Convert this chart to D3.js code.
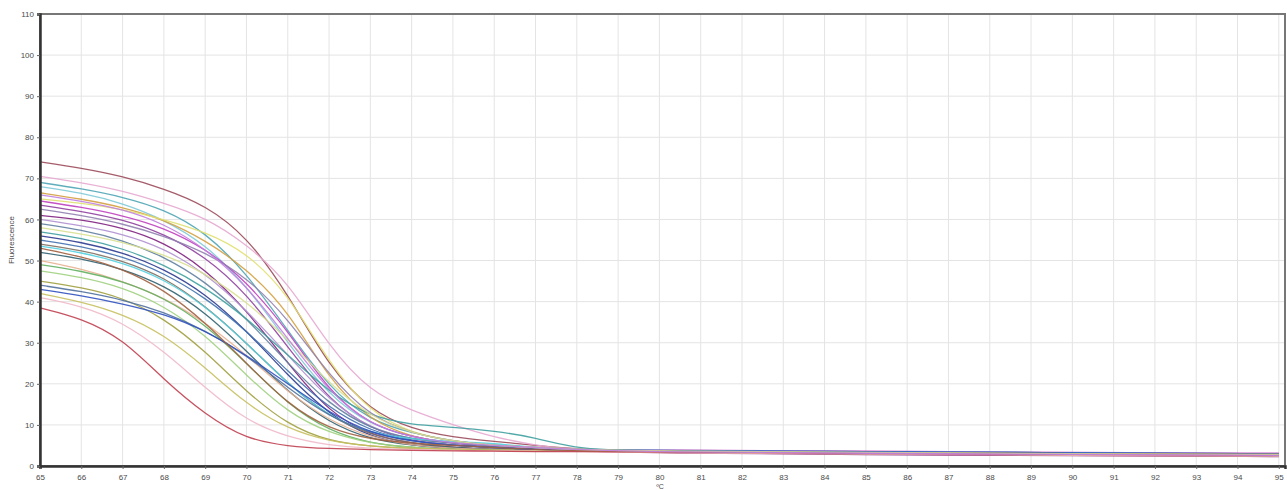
<!DOCTYPE html>
<html lang="en">
<head>
  <meta charset="UTF-8">
  <title>Melt curves</title>
  <script src="https://d3js.org/d3.v7.min.js"></script>
  <style>
    body { margin: 0; background: #fff; }
    .tick text { font-family: Arial, "Liberation Sans", sans-serif; font-size: 8px; fill: #4a4a4a; }
  </style>
</head>
<body>
<div class="main"></div>
<script>

  const temps = [65, 66, 67, 68, 69, 70, 71, 72, 73, 74, 75, 76, 77, 78, 80, 85, 90, 95];

  const xTicks = d3.range(65, 96, 1);
  const yTicks = d3.range(0, 111, 10);

  // fluorescence per well, one array per curve
  const c1  = [74, 72.5, 70.5, 67.5, 63.5, 56, 42, 24, 13.5, 9, 7, 6, 5, 4, 3.6, 3.3, 3.0, 2.8];
  const c2  = [70.5, 69, 67, 64, 60.5, 54, 45, 29, 18, 13.5, 10, 7, 5, 4, 3.2, 2.9, 2.6, 2.4];
  const c3  = [69, 67.5, 65.5, 62.5, 57, 47, 33, 19, 11, 8, 6, 5, 4.5, 4, 3.8, 3.5, 3.2, 3.0];
  const c4  = [68, 66.5, 64, 60, 54, 44, 30, 17, 10, 7, 5.5, 5, 4.5, 4, 3.6, 3.3, 3.0, 2.8];
  const c5  = [66.5, 65, 63, 60, 55, 48, 38, 21, 11, 7, 5.5, 5, 4.5, 4, 3.3, 3.0, 2.7, 2.5];
  const c6  = [65, 64, 62.5, 60, 57, 52, 42, 25, 13, 8, 6, 5, 4.5, 4, 3.5, 3.3, 3.0, 2.7];
  const c7  = [64.5, 63, 61, 58, 53, 45, 33, 18, 10, 7, 5.5, 4.5, 4, 3.8, 3.9, 3.6, 3.3, 3.1];
  const c8  = [63.5, 62, 60, 56.5, 51, 42, 29, 16, 9, 6, 5, 4.5, 4, 3.8, 3.5, 3.2, 3.0, 2.8];
  const c9  = [61, 60, 58, 54.5, 48, 38, 25, 13, 7.5, 5.5, 4.5, 4, 3.8, 3.7, 3.1, 2.8, 2.5, 2.3];
  const c10 = [60, 58.5, 56.5, 53, 47, 38, 27, 16, 9, 6.5, 5, 4.5, 4, 3.8, 3.5, 3.2, 2.9, 2.7];
  const c11 = [59, 57.5, 55, 51, 45, 36, 25, 15, 9, 6.5, 5.5, 4.8, 4.2, 3.8, 3.5, 3.2, 3.0, 2.8];
  const c12 = [56, 54.5, 52, 48, 42, 33, 22, 12.5, 7, 5, 4.2, 3.9, 3.7, 3.6, 3.7, 3.4, 3.1, 2.9];
  const c13 = [55, 53.5, 51, 47, 41, 33, 23, 14, 8.5, 6, 5, 4.5, 4, 3.7, 3.5, 3.3, 3.0, 2.8];
  const c14 = [54, 52.5, 50, 46, 39, 30, 20, 12, 7.5, 5.5, 4.5, 4, 3.8, 3.6, 3.5, 3.2, 2.9, 2.7];
  const c15 = [53.5, 52, 49.5, 45.5, 39, 30, 20, 12, 8, 6.5, 6, 5.5, 4.5, 3.8, 3.8, 3.5, 3.2, 3.0];
  const c16 = [52, 50.5, 48, 44, 37.5, 28, 18, 10.5, 6.5, 5, 4.5, 4, 3.8, 3.6, 3.5, 3.2, 3.0, 2.8];
  const c17 = [50, 48, 45, 41, 35, 27, 18, 11, 7, 5, 4.3, 4, 3.8, 3.6, 3.2, 2.9, 2.6, 2.4];
  const c18 = [49, 47.5, 45, 41, 34.5, 25, 15, 8.5, 5.5, 4.5, 4, 3.8, 3.7, 3.6, 3.5, 3.2, 3.0, 2.8];
  const c19 = [47.5, 46, 43.5, 39, 32, 22, 13, 8, 5.5, 4.5, 4, 3.8, 3.7, 3.6, 3.5, 3.2, 3.0, 2.8];
  const c20 = [45, 43.5, 41, 36, 28, 18, 10, 6, 4.8, 4.2, 4, 3.8, 3.7, 3.6, 3.5, 3.2, 3.0, 2.8];
  const c21 = [44, 42.5, 40.5, 37.5, 33, 27, 19, 12, 8, 6, 5, 4.5, 4, 3.8, 3.5, 3.3, 3.0, 2.8];
  const c22 = [43, 41.5, 39.5, 37, 33, 27, 20, 13, 8, 6, 5, 4.5, 4, 3.8, 3.8, 3.5, 3.2, 3.0];
  const c23 = [42, 40, 37, 32, 24, 15, 9, 6, 4.8, 4.3, 4, 3.8, 3.7, 3.6, 3.5, 3.2, 2.9, 2.7];
  const c24 = [41, 39, 35, 28, 19, 11, 7, 5, 4.3, 4, 3.8, 3.7, 3.6, 3.5, 3.3, 3.0, 2.7, 2.5];
  const c25 = [38.5, 36, 31, 21, 12.5, 6.5, 4.8, 4.2, 4, 3.8, 3.7, 3.6, 3.5, 3.5, 3.4, 3.1, 2.8, 2.6];
  const c26 = [57, 55.5, 53, 49, 43.5, 36, 27, 18, 12, 10, 9.5, 8.5, 7, 4, 3.6, 3.3, 3.0, 2.8];
  const c27 = [62.5, 61, 59, 56, 52, 46, 36, 22, 12, 8, 6, 5, 4.5, 4, 3.6, 3.3, 3.0, 2.8];
  const c28 = [53, 51, 48, 43, 35, 25, 15, 9, 6.5, 5.5, 5, 4.5, 4, 3.7, 3.5, 3.2, 3.0, 2.8];
  const c29 = [58, 56.5, 54.5, 51.5, 47, 40, 31, 20, 12, 8, 6, 5, 4.5, 4, 3.6, 3.3, 3.0, 2.8];
  const c30 = [66, 64.5, 62.5, 59, 53, 44, 31, 18, 10, 7, 5.5, 5, 4.5, 4, 3.4, 3.1, 2.8, 2.6];

  const curves = [c1, c2, c3, c4, c5, c6, c7, c8, c9, c10, c11, c12, c13, c14, c15,
                  c16, c17, c18, c19, c20, c21, c22, c23, c24, c25, c26, c27, c28, c29, c30];
  const colors = ["#9b4a5a", "#e6a8d0", "#4fa5b5", "#7fcad8", "#d4a040", "#e0e070", "#c040c0",
                  "#9040a0", "#802080", "#b090d0", "#6080a0", "#2a3a90", "#4070b0", "#807060",
                  "#50d0e0", "#306070", "#e8b090", "#60b060", "#a0d080", "#a0a040", "#5070a0",
                  "#3050c0", "#c8c060", "#f0b8c8", "#c04050", "#40a0a0", "#9080b0", "#a06040",
                  "#d8e090", "#c080e0"];

  let width = 1287;
  let height = 490;
  let plotLeft = 40, plotRight = 1285, plotTop = 14, plotBottom = 466;

  let xScale = d3.scaleLinear().domain([65, 95.15]).range([plotLeft, plotRight]);
  let yScale = d3.scaleLinear().domain([0, 110]).range([plotBottom, plotTop]);

  let svg = d3.select(".main")
          .append("svg")
          .attr("width", width)
          .attr("height", height)
          .style("display", "block");

  // grid
  svg.append("g").selectAll("line")
          .data(xTicks.slice(1))
          .join("line")
          .attr("x1", d => xScale(d)).attr("x2", d => xScale(d))
          .attr("y1", plotTop).attr("y2", plotBottom)
          .style("stroke", "#e4e4e4").style("stroke-width", 1);
  svg.append("g").selectAll("line")
          .data(yTicks.slice(1))
          .join("line")
          .attr("x1", plotLeft).attr("x2", plotRight)
          .attr("y1", d => yScale(d)).attr("y2", d => yScale(d))
          .style("stroke", "#e4e4e4").style("stroke-width", 1);

  // curves
  let line = d3.line()
          .x((d, i) => xScale(temps[i]))
          .y(d => yScale(d))
          .curve(d3.curveBasis);

  svg.append("g").selectAll("path")
          .data(curves)
          .join("path")
          .attr("d", d => line(d))
          .style("fill", "none")
          .style("stroke", (d, i) => colors[i])
          .style("stroke-width", 1.3)
          .style("opacity", 0.9);

  // frame
  svg.append("rect")
          .attr("x", plotLeft).attr("y", plotTop)
          .attr("width", plotRight - plotLeft).attr("height", plotBottom - plotTop)
          .style("fill", "none").style("stroke", "#777").style("stroke-width", 2);

  let xAxis = d3.axisBottom(xScale).tickValues(xTicks).tickSize(3).tickPadding(5).tickFormat(d3.format("d"));
  let yAxis = d3.axisLeft(yScale).tickValues(yTicks).tickSize(3).tickPadding(3).tickFormat(d3.format("d"));

  let gx = svg.append("g").attr("transform", `translate(0, ${plotBottom})`).call(xAxis);
  let gy = svg.append("g").attr("transform", `translate(${plotLeft}, 0)`).call(yAxis);
  gx.select(".domain").style("stroke", "#333").style("stroke-width", 2.5);
  gy.select(".domain").style("stroke", "#333").style("stroke-width", 2.5);
  svg.selectAll(".tick line").style("stroke", "#666");

  svg.append("text")
          .attr("transform", "translate(14, 240) rotate(-90)")
          .attr("text-anchor", "middle")
          .style("font-family", "Arial, sans-serif").style("font-size", "8px").style("fill", "#4a4a4a")
          .text("Fluorescence");

  svg.append("text")
          .attr("x", 660).attr("y", 489)
          .attr("text-anchor", "middle")
          .style("font-family", "Arial, sans-serif").style("font-size", "7px").style("fill", "#4a4a4a")
          .text("ºC");

</script>
</body>
</html>
